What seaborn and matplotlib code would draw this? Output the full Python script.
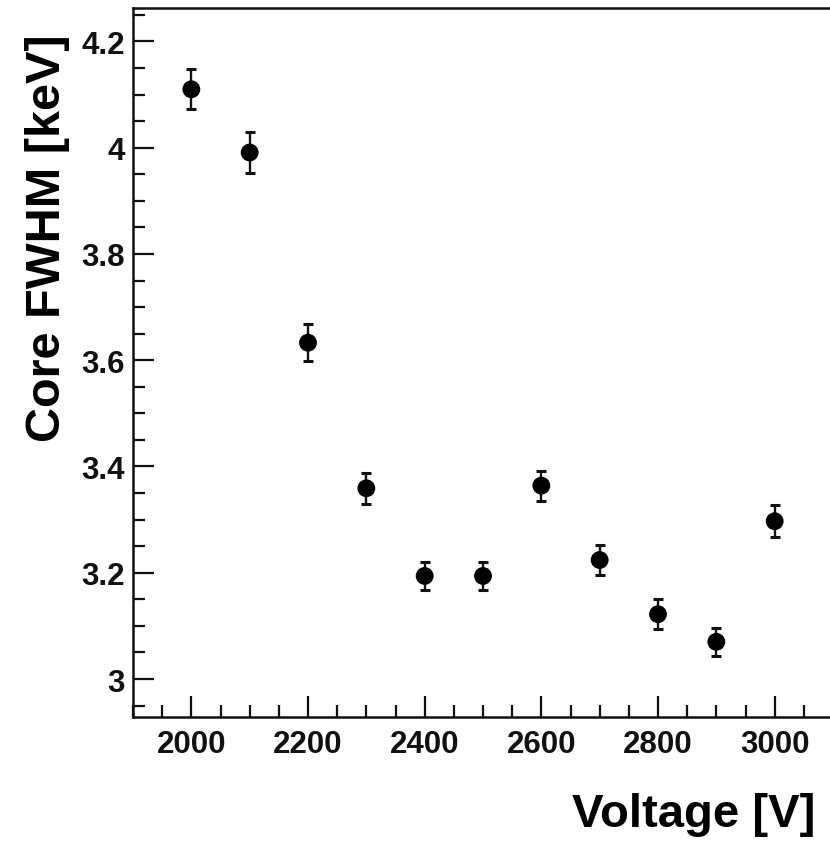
import matplotlib
matplotlib.use("Agg")
import matplotlib.pyplot as plt
from matplotlib.ticker import MultipleLocator, FuncFormatter
import seaborn as sns
import pandas as pd

# Core FWHM measured at each bias voltage
voltage = [2000, 2100, 2200, 2300, 2400, 2500, 2600, 2700, 2800, 2900, 3000]
fwhm = [4.110, 3.991, 3.633, 3.359, 3.194, 3.194, 3.364, 3.224, 3.122, 3.070, 3.297]
fwhm_err = [0.038, 0.038, 0.035, 0.029, 0.027, 0.027, 0.028, 0.029, 0.028, 0.026, 0.030]

df = pd.DataFrame({"voltage": voltage, "fwhm": fwhm, "err": fwhm_err})

sns.set_theme(style="ticks")
plt.rcParams["font.family"] = ["Liberation Sans", "DejaVu Sans"]
plt.rcParams["font.weight"] = "bold"

W, H = 830, 845
fig = plt.figure(figsize=(W / 100, H / 100), dpi=100)
ax = fig.add_axes([133 / W, (H - 718) / H, 700 / W, 709 / H])

ink = "#111111"
ax.errorbar(df["voltage"], df["fwhm"], yerr=df["err"], fmt="none",
            ecolor=ink, elinewidth=1.7, capsize=3.4, capthick=2.2, zorder=2)
sns.scatterplot(data=df, x="voltage", y="fwhm", ax=ax, color="black",
                s=165, edgecolor="none", zorder=3, legend=False)

ax.set_xlim(1900, 3100)
ax.set_ylim(2.9285, 4.263)

ax.xaxis.set_major_locator(MultipleLocator(200))
ax.xaxis.set_minor_locator(MultipleLocator(50))
ax.yaxis.set_major_locator(MultipleLocator(0.2))
ax.yaxis.set_minor_locator(MultipleLocator(0.05))
ax.yaxis.set_major_formatter(FuncFormatter(lambda v, p: f"{v:g}"))
ax.xaxis.set_major_formatter(FuncFormatter(lambda v, p: f"{v:g}"))

ax.tick_params(axis="both", which="both", direction="in", color=ink,
               top=False, right=False)
ax.tick_params(axis="both", which="major", length=15, width=1.6,
               labelsize=22.5, pad=6)
ax.tick_params(axis="both", which="minor", length=8.5, width=1.6)
ax.tick_params(axis="x", which="major", pad=9)
for lbl in ax.get_xticklabels() + ax.get_yticklabels():
    lbl.set_fontweight("bold")
    lbl.set_color(ink)

for side in ["left", "bottom", "top"]:
    ax.spines[side].set_visible(True)
    ax.spines[side].set_linewidth(1.8)
    ax.spines[side].set_color(ink)
ax.spines["right"].set_visible(False)

ax.set_xlabel("")
ax.set_ylabel("")

fig.text(815 / W, 1 - 827 / H, "Voltage [V]", ha="right", va="baseline",
         fontsize=34, fontweight="bold", color="black")
fig.text(47 / W, 1 - 34 / H, "Core FWHM [keV]", rotation=90, ha="center",
         va="top", fontsize=35, fontweight="bold", color="black")

fig.savefig("out.png", dpi=100, facecolor="white")
